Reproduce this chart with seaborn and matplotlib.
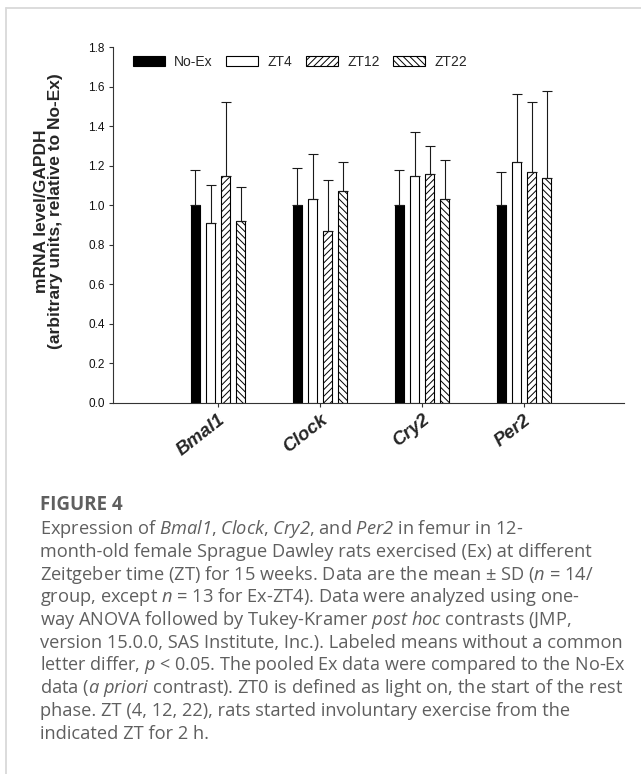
import numpy as np
import pandas as pd
import matplotlib
matplotlib.use("Agg")
import matplotlib.pyplot as plt
import seaborn as sns
from matplotlib.patches import Patch
from matplotlib.lines import Line2D

# ---------------- data ----------------
genes = ["Bmal1", "Clock", "Cry2", "Per2"]
groups = ["No-Ex", "ZT4", "ZT12", "ZT22"]
noex_mean = [1.00, 1.00, 1.00, 1.00]
zt4_mean = [0.91, 1.03, 1.15, 1.22]
zt12_mean = [1.15, 0.87, 1.16, 1.17]
zt22_mean = [0.92, 1.07, 1.03, 1.14]
noex_sd = [0.18, 0.19, 0.18, 0.17]
zt4_sd = [0.19, 0.23, 0.22, 0.34]
zt12_sd = [0.37, 0.26, 0.14, 0.35]
zt22_sd = [0.17, 0.15, 0.20, 0.44]
y_ticks = [0.0, 0.2, 0.4, 0.6, 0.8, 1.0, 1.2, 1.4, 1.6, 1.8]
y_label = "mRNA level/GAPDH\n(arbitrary units, relative to No-Ex)"
fig_label = "FIGURE 4"
caption_lines = [
    r"Expression of $\mathsf{Bmal1}$, $\mathsf{Clock}$, $\mathsf{Cry2}$, and $\mathsf{Per2}$ in femur in 12-",
    "month-old female Sprague Dawley rats exercised (Ex) at different",
    r"Zeitgeber time (ZT) for 15 weeks. Data are the mean ± SD ($\mathsf{n}$ = 14/",
    r"group, except $\mathsf{n}$ = 13 for Ex-ZT4). Data were analyzed using one-",
    r"way ANOVA followed by Tukey-Kramer $\mathsf{post}$ $\mathsf{hoc}$ contrasts (JMP,",
    "version 15.0.0, SAS Institute, Inc.). Labeled means without a common",
    r"letter differ, $\mathsf{p}$ < 0.05. The pooled Ex data were compared to the No-Ex",
    r"data ($\mathsf{a}$ $\mathsf{priori}$ contrast). ZT0 is defined as light on, the start of the rest",
    "phase. ZT (4, 12, 22), rats started involuntary exercise from the",
    "indicated ZT for 2 h.",
]

means = {"No-Ex": noex_mean, "ZT4": zt4_mean, "ZT12": zt12_mean, "ZT22": zt22_mean}
sds = {"No-Ex": noex_sd, "ZT4": zt4_sd, "ZT12": zt12_sd, "ZT22": zt22_sd}
rows = []
for g in groups:
    for i, gene in enumerate(genes):
        rows.append({"gene": gene, "group": g, "mean": means[g][i], "sd": sds[g][i]})
df = pd.DataFrame(rows)

# ---------------- style ----------------
sns.set_style("ticks")
plt.rcParams["font.family"] = ["Liberation Sans", "DejaVu Sans"]
plt.rcParams["mathtext.fontset"] = "custom"
plt.rcParams["mathtext.rm"] = "Open Sans"
plt.rcParams["mathtext.it"] = "Open Sans:italic"
plt.rcParams["mathtext.sf"] = "Open Sans:italic"
plt.rcParams["mathtext.bf"] = "Open Sans:bold"
plt.rcParams["hatch.linewidth"] = 0.7
plt.rcParams["hatch.color"] = "black"

palette = {"No-Ex": "black", "ZT4": "white", "ZT12": "white", "ZT22": "white"}
hatches = {"No-Ex": "", "ZT4": "", "ZT12": "/////", "ZT22": "\\\\\\\\\\"}

fig = plt.figure(figsize=(6.41, 7.74), dpi=100)
W, H = 641, 774
ax = fig.add_axes([113 / W, 1 - 403 / H, (624 - 113) / W, (403 - 47) / H])

sns.barplot(data=df, x="gene", y="mean", hue="group", order=genes,
            hue_order=groups, palette=palette, saturation=1, width=0.59,
            gap=0.37, edgecolor="black", linewidth=0.8, errorbar=None,
            legend=False, ax=ax)

# hatch + error bars, by position within each category
for gi, gene in enumerate(genes):
    bars = [p for p in ax.patches
            if round(p.get_x() + p.get_width() / 2) == gi]
    bars.sort(key=lambda p: p.get_x())
    for bar, g in zip(bars, groups):
        bar.set_hatch(hatches[g])
        xc = bar.get_x() + bar.get_width() / 2
        h = bar.get_height()
        ax.errorbar([xc], [h], yerr=[[0], [sds[g][gi]]], fmt="none",
                    ecolor="#1a1a1a", elinewidth=0.8, capsize=3.3,
                    capthick=0.8, zorder=3)

ax.set_ylim(0, 1.8)
ax.set_xlim(-1.03, 3.98)
ax.set_yticks(y_ticks)
ax.set_yticklabels([f"{v:.1f}" for v in y_ticks], fontsize=8.5, color="#111111")
ax.set_xticks(range(len(genes)))
ax.set_xticklabels(genes, fontsize=13.5, fontweight="bold", fontstyle="italic",
                   rotation=38, ha="right", rotation_mode="anchor")
ax.tick_params(axis="both", direction="out", length=3, width=0.8, color="#333333")
ax.tick_params(axis="x", pad=3)
ax.tick_params(axis="y", pad=3)
ax.set_xlabel("")
ax.set_ylabel("")
for s in ["top", "right"]:
    ax.spines[s].set_visible(False)
for s in ["left", "bottom"]:
    ax.spines[s].set_linewidth(0.8)
    ax.spines[s].set_color("#333333")

ax.text((48.5 - 113) / 511, (403 - 211) / 356, y_label, transform=ax.transAxes,
        rotation=90, ha="center", va="center", fontsize=12.5, fontweight="bold",
        multialignment="center", linespacing=0.95)

handles = [Patch(facecolor=palette[g], edgecolor="black", hatch=hatches[g],
                 linewidth=0.8, label=g) for g in groups]
ax.legend(handles=handles, ncol=4, frameon=False, loc="center left",
          bbox_to_anchor=((133 - 113) / 511, (403 - 62) / 356),
          borderaxespad=0, borderpad=0, fontsize=10, handlelength=2.3,
          handleheight=0.72, handletextpad=0.65, columnspacing=1.0)

# ---------------- frame + caption ----------------
fig.add_artist(Line2D([6 / W, 6 / W], [0, 1 - 7.5 / H], transform=fig.transFigure,
                      color="#d9d9d9", lw=1.3))
fig.add_artist(Line2D([6 / W, 1], [1 - 7.5 / H, 1 - 7.5 / H], transform=fig.transFigure,
                      color="#d9d9d9", lw=1.3))

cap_color = "#5f5f5f"
fig.text(40 / W, 1 - 510 / H, fig_label, fontsize=13.5, fontweight="bold",
         family="Open Sans", color=cap_color, va="baseline", ha="left")
texts = []
for i, line in enumerate(caption_lines):
    y = 534.3 + 22.7 * i
    t = fig.text(40 / W, 1 - y / H, line, fontsize=11, family="Open Sans",
                 color=cap_color, va="baseline", ha="left")
    texts.append(t)

fig.canvas.draw()
renderer = fig.canvas.get_renderer()
maxw = 624 - 40
w6 = texts[5].get_window_extent(renderer).width
base = 11 * maxw / w6
for t in texts:
    t.set_fontsize(base)
fig.canvas.draw()
for t in texts:
    w = t.get_window_extent(renderer).width
    if w > maxw:
        t.set_fontsize(base * maxw / w)

fig.savefig("out.png", dpi=100)
